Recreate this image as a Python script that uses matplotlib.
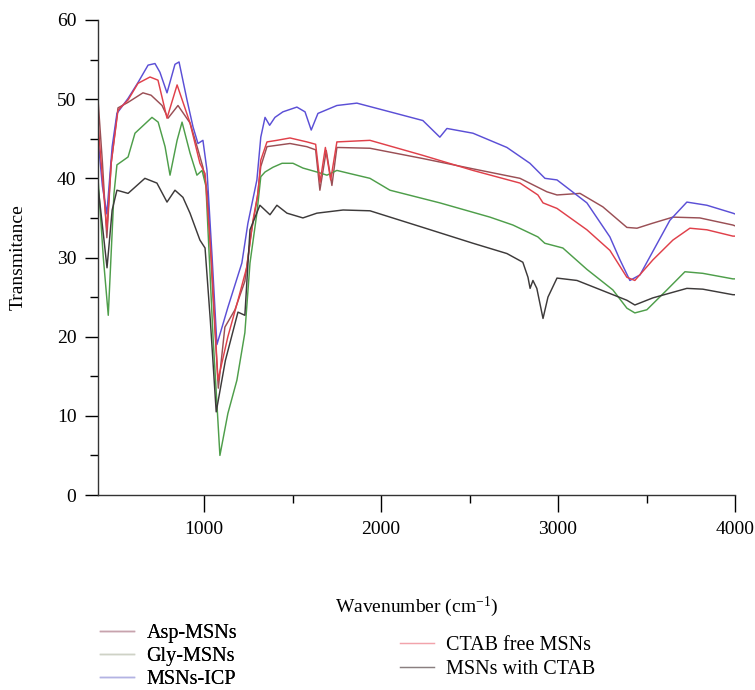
# FTIR spectra of the MSN samples

import numpy as np
import matplotlib
matplotlib.use('Agg')
import matplotlib.pyplot as plt
from matplotlib.ticker import FixedLocator

matplotlib.rcParams['font.family'] = 'Liberation Serif'
matplotlib.rcParams['mathtext.default'] = 'regular'


# Dati (numero d'onda [cm-1], trasmittanza)

asp_x = [400, 425, 450, 475, 513, 570, 654, 700, 762, 796, 852, 920, 960, 993, 1020, 1050, 1080,
         1117, 1174, 1230, 1265, 1300, 1320, 1355, 1420, 1485, 1580, 1630, 1654, 1690, 1722, 1750,
         1937, 2236, 2519, 2785, 2937, 2994, 3124, 3253, 3389, 3446, 3530, 3649, 3801, 3988, 4000]
asp_y = [50, 42, 32.5, 42, 48.9, 49.6, 50.8, 50.5, 49.2, 47.6, 49.2, 47, 44, 41.4, 38, 25, 13.5,
         21.2, 23.4, 27, 33, 37.5, 41.5, 44, 44.2, 44.4, 44, 43.6, 38.5, 43.5, 39.1, 43.9,
         43.8, 42.5, 41.2, 40, 38.3, 37.9, 38.1, 36.4, 33.8, 33.7, 34.3, 35.1, 35, 34.1, 34]

gly_x = [400, 430, 458, 490, 507, 570, 609, 705, 740, 779, 807, 847, 875, 920, 959, 988, 1010,
         1050, 1089, 1134, 1185, 1230, 1259, 1298, 1320, 1344, 1389, 1440, 1502, 1558, 1637,
         1694, 1750, 1824, 1937, 2050, 2332, 2615, 2745, 2886, 2925, 3027, 3163, 3310, 3389,
         3434, 3502, 3615, 3717, 3818, 3988, 4000]
gly_y = [40, 30, 22.7, 38, 41.7, 42.7, 45.7, 47.7, 47.1, 44, 40.4, 44.8, 47.1, 43.2, 40.4, 41, 39,
         20, 5, 10.3, 14.5, 20.5, 29.3, 35.6, 40.2, 40.8, 41.4, 41.9, 41.9, 41.3, 40.8,
         40.4, 41, 40.6, 40, 38.5, 36.9, 35.1, 34.1, 32.6, 31.8, 31.2, 28.5, 25.9, 23.6,
         23, 23.4, 25.9, 28.2, 28, 27.3, 27.3]

icp_x = [400, 425, 450, 480, 507, 570, 626, 683, 722, 750, 790, 835, 858, 903, 937, 965, 993,
         1016, 1045, 1072, 1134, 1213, 1247, 1298, 1320, 1344, 1370, 1400, 1445, 1524, 1570,
         1605, 1643, 1750, 1863, 2050, 2236, 2332, 2372, 2519, 2711, 2841, 2926, 2994, 3163,
         3293, 3350, 3406, 3463, 3632, 3728, 3841, 3988, 4000]
icp_y = [45, 39, 35.5, 44, 48.2, 50.1, 52.1, 54.3, 54.5, 53.4, 50.8, 54.4, 54.7, 49.9, 46.5, 44.4, 44.8,
         41, 30, 19, 23.7, 29.3, 34.3, 39.8, 45.2, 47.7, 46.7, 47.7, 48.4, 49, 48.4,
         46.1, 48.2, 49.2, 49.5, 48.4, 47.3, 45.2, 46.3, 45.7, 43.9, 41.9, 40, 39.8, 36.9,
         32.6, 29.7, 27.1, 27.8, 34.7, 37, 36.6, 35.6, 35.5]

free_x = [400, 425, 450, 475, 513, 570, 626, 694, 739, 790, 847, 920, 976, 1005, 1040, 1078,
          1134, 1191, 1241, 1276, 1304, 1320, 1355, 1411, 1485, 1581, 1630, 1655, 1685, 1715,
          1750, 1937, 2236, 2519, 2785, 2886, 2915, 2994, 3163, 3293, 3389, 3434, 3536, 3649,
          3745, 3841, 3988, 4000]
free_y = [47, 40, 33.5, 42, 48.6, 49.9, 52, 52.8, 52.4, 47.6, 51.8, 47, 41.9, 40.6, 30, 14.5,
          20, 24.6, 28.8, 34.7, 38.1, 42.3, 44.6, 44.8, 45.1, 44.6, 44.3, 39.5, 43.9, 39.8,
          44.6, 44.8, 42.9, 41, 39.4, 37.9, 36.9, 36.2, 33.5, 30.9, 27.5, 27.1, 29.7, 32.2,
          33.7, 33.5, 32.7, 32.7]

ctab_x = [400, 430, 451, 480, 507, 570, 665, 733, 790, 835, 880, 920, 976, 1005, 1035, 1068,
          1120, 1191, 1230, 1259, 1315, 1372, 1411, 1468, 1558, 1637, 1785, 1937, 2236, 2519,
          2711, 2801, 2830, 2842, 2858, 2880, 2915, 2943, 2994, 3107, 3220, 3389, 3434, 3536,
          3728, 3818, 3988, 4000]
ctab_y = [39, 33, 28.7, 36, 38.5, 38.1, 40, 39.4, 37, 38.5, 37.6, 35.6, 32.2, 31.2, 22, 10.5,
          17, 23.1, 22.7, 33.5, 36.6, 35.4, 36.6, 35.6, 35, 35.6, 36, 35.9, 33.8, 31.8,
          30.5, 29.4, 27.5, 26.1, 27.1, 26.1, 22.3, 25, 27.4, 27.1, 26.1, 24.6, 24, 24.9,
          26.1, 26, 25.3, 25.3]


# Plot

fig = plt.figure(figsize=(7.55, 6.9), dpi=100)
ax = fig.add_axes([98/755, 1-495/690, 637/755, 475/690])
ax.spines['top'].set_visible(False)
ax.spines['right'].set_visible(False)

l_asp, = ax.plot(asp_x, asp_y, color='#9a4f55', linewidth=1.05)
l_gly, = ax.plot(gly_x, gly_y, color='#4e9e4a', linewidth=1.05)
l_icp, = ax.plot(icp_x, icp_y, color='#5b4fd6', linewidth=1.05)
l_free, = ax.plot(free_x, free_y, color='#e0404a', linewidth=1.05)
l_ctab, = ax.plot(ctab_x, ctab_y, color='#3d3a3a', linewidth=1.05)

ax.set_xlim([400, 4000])
ax.set_ylim([0, 60])
ax.xaxis.set_major_locator(FixedLocator([1000, 2000, 3000, 4000]))
ax.xaxis.set_minor_locator(FixedLocator([1500, 2500, 3500]))
ax.yaxis.set_major_locator(FixedLocator(np.arange(0, 61, 10)))
ax.yaxis.set_minor_locator(FixedLocator(np.arange(5, 60, 10)))
ax.tick_params(axis='x', which='major', length=12, width=1, pad=7, labelsize=14)
ax.tick_params(axis='x', which='minor', length=6, width=1)
ax.tick_params(axis='y', which='major', length=9.5, width=1, pad=6, labelsize=14)
ax.tick_params(axis='y', which='minor', length=6, width=1)
for s in ['left', 'bottom']:
    ax.spines[s].set_linewidth(1)
    ax.spines[s].set_color('#333333')

ax.set_xlabel('Wavenumber (cm$^{-1}$)', fontsize=14)
ax.xaxis.set_label_coords(0.5, -0.21)
ax.set_ylabel('Transmitance', fontsize=14)
ax.yaxis.set_label_coords(-0.112, 0.5)

# Legenda su due colonne sfalsate
leg1 = fig.legend([l_asp, l_gly, l_icp], ['Asp-MSNs', 'Gly-MSNs', 'MSNs-ICP'],
                  loc='upper left', bbox_to_anchor=(100/755, 1-624/690), frameon=False,
                  fontsize=14.5, handlelength=1.7, handletextpad=0.6, labelspacing=0.2,
                  borderpad=0, borderaxespad=0)
leg2 = fig.legend([l_free, l_ctab], ['CTAB free MSNs', 'MSNs with CTAB'],
                  loc='upper left', bbox_to_anchor=(400/755, 1-636/690), frameon=False,
                  fontsize=14.5, handlelength=1.7, handletextpad=0.6, labelspacing=0.24,
                  borderpad=0, borderaxespad=0)
fig.add_artist(leg1)
for line, c in zip(leg1.get_lines(), ['#c7a3ad', '#cfd2c6', '#b3b3e3']):
    line.set_color(c)
for line, c in zip(leg2.get_lines(), ['#f2a3ab', '#8a7f80']):
    line.set_color(c)

plt.savefig('out.png', dpi=100)
